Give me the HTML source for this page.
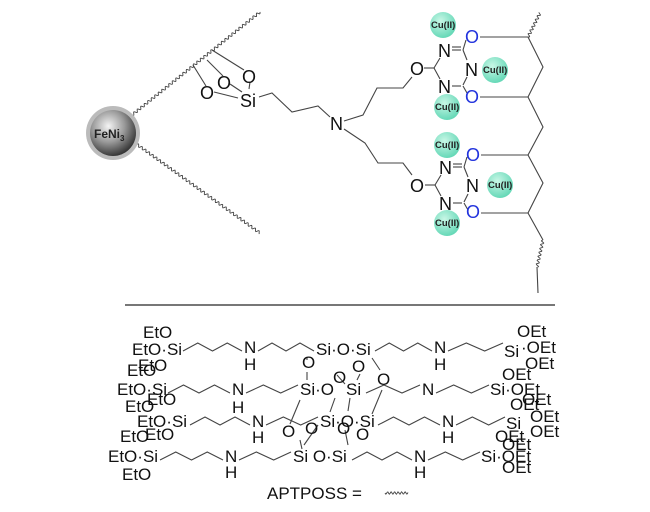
<!DOCTYPE html>
<html><head><meta charset="utf-8">
<style>
html,body{margin:0;padding:0;background:#fff;}
svg{display:block;}
text{font-family:"Liberation Sans",sans-serif;fill:#111;}
.b{font-size:18px;}
.t{font-size:17px;}
.cu{font-size:9.5px;font-weight:bold;fill:#222;}
</style></head>
<body>
<svg id="s" width="650" height="512" viewBox="0 0 650 512" xmlns="http://www.w3.org/2000/svg">
<defs>
<radialGradient id="sp" cx="0.4" cy="0.35" r="0.7">
<stop offset="0" stop-color="#f4f4f4"/><stop offset="0.5" stop-color="#9a9a9a"/><stop offset="1" stop-color="#2a2a2a"/>
</radialGradient>
<radialGradient id="cg" cx="0.4" cy="0.35" r="0.7">
<stop offset="0" stop-color="#c8f7e6"/><stop offset="1" stop-color="#5fd6b4"/>
</radialGradient>
</defs>
<g id="lines" stroke="#444" stroke-width="1.1" fill="none"></g>
<circle cx="113" cy="133" r="27" fill="#bbb"/>
<circle cx="113" cy="133" r="23" fill="url(#sp)"/>
<text x="94" y="138" style="font-size:12px;font-weight:bold;fill:#222">FeNi<tspan style="font-size:8px" dy="3">3</tspan></text>
<text class="b" x="200" y="99">O</text>
<text class="b" x="217" y="89">O</text>
<text class="b" x="242" y="83">O</text>
<text class="b" x="240" y="107">Si</text>
<text class="b" x="330" y="130">N</text>
<text class="b" x="410" y="75">O</text>
<text class="b" x="410" y="192">O</text>
<text class="b" x="438" y="57">N</text>
<text class="b" x="465" y="76">N</text>
<text class="b" x="438" y="93">N</text>
<text class="b" x="465" y="43" style="fill:#2233dd">O</text>
<text class="b" x="465" y="103" style="fill:#2233dd">O</text>
<text class="b" x="439" y="174">N</text>
<text class="b" x="466" y="192">N</text>
<text class="b" x="439" y="210">N</text>
<text class="b" x="466" y="161" style="fill:#2233dd">O</text>
<text class="b" x="466" y="218" style="fill:#2233dd">O</text>
<g id="cus"></g>
<line x1="125" y1="305" x2="555" y2="305" stroke="#777" stroke-width="2"/>
<g class="t">
<text x="143" y="338">EtO</text>
<text x="132" y="355">EtO·Si</text>
<text x="138" y="371">EtO</text>
<text x="127" y="376">EtO</text>
<text x="244" y="353">N</text><text x="244" y="370">H</text>
<text x="316" y="355">Si·O·Si</text>
<text x="434" y="353">N</text><text x="434" y="370">H</text>
<text x="517" y="337">OEt</text>
<text x="504" y="357">Si</text><text x="521" y="353">·OEt</text>
<text x="525" y="369">OEt</text>
<text x="302" y="368">O</text><text x="352" y="372">O</text>
<text x="333" y="383">O</text><text x="377" y="385">O</text>
<text x="117" y="395">EtO·Si</text>
<text x="232" y="395">N</text>
<text x="300" y="395">Si·O</text>
<text x="346" y="395">Si</text>
<text x="422" y="395">N</text>
<text x="490" y="395">Si·OEt</text>
<text x="502" y="380">OEt</text>
<text x="147" y="405">EtO</text>
<text x="125" y="412">EtO</text>
<text x="510" y="410">OEt</text>
<text x="522" y="405">OEt</text>
<text x="232" y="413">H</text>
<text x="137" y="427">EtO·Si</text>
<text x="252" y="427">N</text>
<text x="320" y="427">Si·O·Si</text>
<text x="442" y="427">N</text>
<text x="506" y="429">Si</text>
<text x="530" y="422">OEt</text>
<text x="252" y="443">H</text><text x="442" y="443">H</text>
<text x="282" y="437">O</text><text x="305" y="434">O</text>
<text x="337" y="434">O</text><text x="356" y="440">O</text>
<text x="120" y="442">EtO</text><text x="145" y="440">EtO</text>
<text x="530" y="437">OEt</text>
<text x="495" y="442">OEt</text>
<text x="108" y="462">EtO·Si</text>
<text x="225" y="462">N</text><text x="225" y="478">H</text>
<text x="293" y="462">Si O·Si</text>
<text x="414" y="462">N</text><text x="414" y="478">H</text>
<text x="481" y="462">Si·OEt</text>
<text x="502" y="450">OEt</text>
<text x="502" y="473">OEt</text>
<text x="122" y="480">EtO</text>
<text x="267" y="499">APTPOSS =</text>
</g>
</svg>
<script>
var NS="http://www.w3.org/2000/svg",L=document.getElementById("lines");
function add(d,extra){var p=document.createElementNS(NS,"path");p.setAttribute("d",d);if(extra)for(var k in extra)p.setAttribute(k,extra[k]);L.appendChild(p);}
function pl(pts){var d="M"+pts[0]+","+pts[1];for(var i=2;i<pts.length;i+=2)d+=" L"+pts[i]+","+pts[i+1];add(d);}
function wavy(x1,y1,x2,y2,a,w){a=a||1.3;w=w||4.5;var dx=x2-x1,dy=y2-y1,len=Math.hypot(dx,dy),ux=dx/len,uy=dy/len,nx=-uy,ny=ux,n=Math.floor(len/0.7),d="";for(var i=0;i<=n;i++){var t=i/n*len,o=a*Math.sin(t/w*2*Math.PI);var x=x1+ux*t+nx*o,y=y1+uy*t+ny*o;d+=(i?" L":"M")+x.toFixed(2)+","+y.toFixed(2);}add(d,{"stroke-width":"0.9"});}
function zz(x1,x2,y,h){var n=Math.max(2,Math.round((x2-x1)/16)),pts=[x1,y+h];for(var i=1;i<n;i++){pts.push(x1+(x2-x1)*i/n,(i%2)?y-h:y+h);}pts.push(x2,(n%2)?y-h:y+h);pl(pts);}
wavy(132,115,260,12);wavy(135,143,260,233);
pl([193,65,206,86]);pl([207,60,223,76]);pl([212,50,244,70]);
pl([214,92,238,98]);pl([230,84,242,92]);pl([250,82,249,89]);
pl([259,97,272,93,292,112,318,106,330,117]);
pl([344,121,363,115,377,88,403,88,412,77]);
pl([344,129,365,143,378,163,403,163,412,175]);
pl([424,68,434,68]);pl([434,68,440,58]);pl([434,68,440,79]);
pl([452,50,461,50]);pl([452,47,461,47]);pl([463,50,467,60]);pl([463,50,466,40]);
pl([463,85,467,77]);pl([452,86,461,86]);pl([463,86,467,93]);
pl([480,37,528,37]);pl([480,97,528,97]);
pl([425,185,435,185]);pl([435,185,441,175]);pl([435,185,441,196]);
pl([453,167,462,167]);pl([453,164,462,164]);pl([464,167,468,177]);pl([464,167,467,157]);
pl([464,202,468,194]);pl([453,203,462,203]);pl([464,203,468,210]);
pl([481,155,528,155]);pl([481,213,528,213]);
pl([528,37,543,67,528,97,543,127,528,155,543,183,528,213,543,240]);
wavy(528,37,540,13,1.4,4);wavy(543,240,537,267,1.4,4);pl([537,267,538,293]);
var C=document.getElementById("cus");
[[443,25],[495,70],[447,107],[447,145],[500,185],[447,223]].forEach(function(c){
var ci=document.createElementNS(NS,"circle");ci.setAttribute("cx",c[0]);ci.setAttribute("cy",c[1]);ci.setAttribute("r",13);ci.setAttribute("fill","url(#cg)");C.appendChild(ci);
var t=document.createElementNS(NS,"text");t.setAttribute("x",c[0]-12);t.setAttribute("y",c[1]+3);t.setAttribute("class","cu");t.textContent="Cu(II)";C.appendChild(t);});
var h=4;
zz(183,242,347,h);zz(258,314,347,h);zz(375,432,347,h);zz(448,503,347,h);
zz(168,230,389,h);zz(246,298,389,h);zz(366,420,389,h);zz(436,489,389,h);
zz(190,250,421,h);zz(266,318,421,h);zz(378,440,421,h);zz(456,505,421,h);
zz(160,223,456,h);zz(239,291,456,h);zz(352,412,456,h);zz(428,480,456,h);
pl([307,357,307,360]);pl([337,375,345,384]);pl([360,374,357,380]);pl([372,358,380,370]);
pl([307,372,307,380]);pl([335,398,330,412]);pl([350,398,348,411]);pl([382,390,372,414]);
pl([300,400,290,424]);pl([318,425,304,445]);pl([345,430,348,445]);pl([300,440,302,449]);
wavy(385,493,408,493,1.2,3.5);
</script>
</body></html>
